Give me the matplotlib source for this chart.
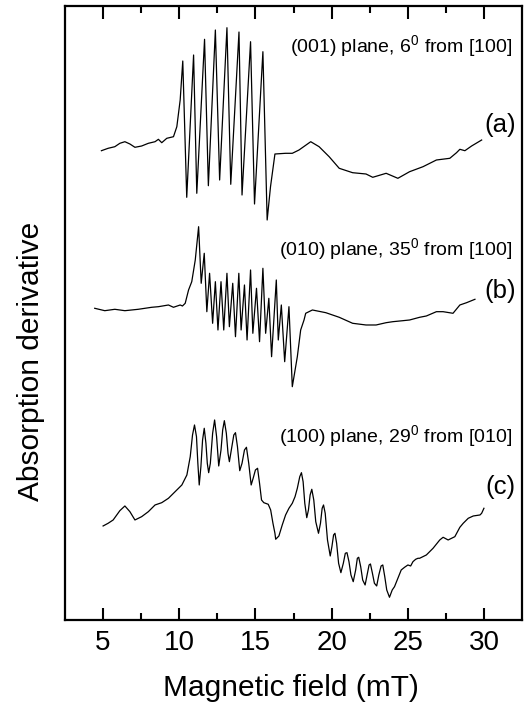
import matplotlib.pyplot as plt
import numpy as np

plt.rcParams['font.family'] = ['Liberation Sans', 'DejaVu Sans']
plt.rcParams['mathtext.fontset'] = 'custom'
plt.rcParams['mathtext.rm'] = 'Liberation Sans'

# spectrum (a): (001) plane, 6 deg from [100]
field_a = [4.89, 5.33, 5.77, 6.10, 6.43, 6.76, 7.09, 7.53, 7.97, 8.41, 8.63, 8.85,
           9.18, 9.62, 9.84, 10.06, 10.23, 10.49, 10.94, 11.15, 11.66, 11.91, 12.37,
           12.65, 13.13, 13.38, 13.92, 14.12, 14.68, 14.94, 15.49, 15.77, 15.99, 16.28,
           16.98, 17.42, 17.86, 18.63, 19.18, 19.84, 20.50, 21.38, 22.26, 22.70, 23.58,
           24.35, 25.12, 26.00, 26.88, 27.76, 28.20, 28.42, 28.75, 29.19, 29.85]
sig_a = [-0.7, 1.7, 3.3, 6.7, 8.3, 6, 2.7, 4, 6.7, 8.3, 10.7, 7.3,
         11.7, 13.3, 23.3, 50, 89, -47.3, 95, -43.3, 110.7, -35.7, 120,
         -30, 122.3, -34.3, 118, -45, 108.3, -54, 98.3, -70, -36.7, -4,
         -3.3, -3.3, 0, 8.3, 3.3, -6.7, -18.3, -22.7, -24, -27.3, -23.3,
         -28.3, -21.7, -16.7, -10, -8.3, -2.7, 0.7, -0.7, 4, 10]

# spectrum (b): (010) plane, 35 deg from [100]
field_b = [4.45, 5.11, 5.77, 6.43, 7.31, 8.19, 8.63, 9.29, 9.62, 10.06, 10.21,
           10.39, 10.61, 10.82, 11.05, 11.27, 11.44, 11.64, 11.81, 11.99, 12.19, 12.37,
           12.54, 12.74, 12.92, 13.13, 13.29, 13.51, 13.69, 13.91, 14.06, 14.28, 14.45,
           14.68, 14.83, 15.07, 15.27, 15.49, 15.67, 15.88, 16.06, 16.37, 16.50, 16.70,
           16.92, 17.20, 17.42, 17.75, 17.97, 18.19, 18.30, 18.74, 19.62, 20.50, 21.38,
           22.26, 22.92, 23.58, 24.02, 24.68, 25.12, 25.78, 26.22, 26.88, 27.32, 27.97,
           28.42, 28.86, 29.41]
sig_b = [1.7, -0.7, 0.7, -0.7, 0.7, 2.7, 3.3, 5, 2.7, 5, 4,
         6.7, 20, 28.3, 50, 83.3, 26.7, 56.7, -1.7, 36.7, -13.3, 28.3,
         -20, 28.3, -20, 36.7, -16.7, 26.7, -26.7, 36.7, -20, 25, -30,
         40, -23.3, 21.7, -31.7, 41.7, -23.3, 11.7, -46.7, 30, -30, 5,
         -51.7, 3.3, -76.7, -46.7, -20, -10, -3.3, 0, -2.7, -7.3, -13.3,
         -15, -15, -12.7, -11.7, -10.7, -10, -7.3, -6, -1.7, -1.7, -3.3,
         5, 7.3, 10.7]

# spectrum (c): (100) plane, 29 deg from [010]
field_c = [5.00, 5.33, 5.66, 6.10, 6.43, 6.76, 7.09, 7.53, 7.97, 8.41, 8.85, 9.29,
           9.73, 10.17, 10.50, 10.72, 10.87, 11.00, 11.13, 11.22, 11.31, 11.42, 11.53,
           11.64, 11.75, 11.84, 11.93, 12.04, 12.19, 12.32, 12.45, 12.59, 12.74, 12.85,
           12.96, 13.09, 13.20, 13.29, 13.42, 13.58, 13.69, 13.82, 13.97, 14.12, 14.28,
           14.41, 14.56, 14.72, 14.85, 15.00, 15.14, 15.27, 15.40, 15.55, 15.84, 16.00,
           16.15, 16.28, 16.33, 16.54, 16.76, 16.98, 17.20, 17.42, 17.60, 17.75, 17.91,
           18.02, 18.13, 18.24, 18.37, 18.48, 18.59, 18.70, 18.83, 18.96, 19.14, 19.27,
           19.38, 19.47, 19.58, 19.73, 19.91, 20.02, 20.13, 20.22, 20.33, 20.46, 20.61,
           20.77, 20.90, 21.01, 21.14, 21.27, 21.42, 21.58, 21.69, 21.78, 21.91, 22.04,
           22.20, 22.33, 22.46, 22.55, 22.68, 22.81, 22.96, 23.10, 23.25, 23.36, 23.49,
           23.62, 23.80, 23.98, 24.13, 24.35, 24.57, 24.79, 25.01, 25.19, 25.34, 25.52,
           25.67, 25.78, 26.22, 26.66, 27.10, 27.32, 27.65, 28.09, 28.42, 28.64, 28.97,
           29.30, 29.74, 29.85, 30.00]
sig_c = [-6, -3.3, 0, 9.3, 14, 8.3, 0, 3.3, 8.3, 15, 17.3, 21.7,
         28.3, 35, 45, 63.3, 85, 95, 83.3, 56.7, 35, 53.3, 80,
         91.7, 76.7, 56.7, 47.3, 56.7, 86.7, 100, 83.3, 54, 70, 90,
         99.3, 86.7, 66.7, 58.3, 70, 85, 87.3, 73.3, 49.3, 56.7, 70,
         72.7, 56.7, 35, 41.7, 50, 51.7, 36.7, 20, 17.3, 15.7, 10,
         -3.3, -13.3, -19.3, -16, -5, 5, 11.7, 16.7, 23.3, 31.7, 43.3,
         47.3, 38.3, 16.7, 2.3, 10, 25, 30.7, 20, -1.7, -13.3, -3.3,
         11.7, 15, 6.7, -20, -36, -26.7, -15, -13.3, -23.3, -43.3, -52.7,
         -43.3, -33.3, -32.7, -41.7, -55, -61.7, -50, -38.3, -37.3, -46.7, -60,
         -65, -55, -45, -44, -53.3, -63.3, -66, -55, -46, -45, -56.7,
         -70, -77.3, -70, -66.7, -58.3, -50, -47.3, -45, -46, -41.7, -39.3,
         -38.3, -38.3, -35, -28.3, -20, -17.3, -20, -16.7, -7.3, -3.3, 1.7,
         4, 5, 6.7, 11.7]

offsets = [470, 310, 100]
notes = ["(001) plane, 6$^0$ from [100]",
         "(010) plane, 35$^0$ from [100]",
         "(100) plane, 29$^0$ from [010]"]
tags = ["(a)", "(b)", "(c)"]
note_y = [573, 370, 183]
tag_y = [495, 329, 133]

fig = plt.figure(figsize=(5.29, 7.07), dpi=100)
ax = fig.add_axes([0.1229, 0.1231, 0.8639, 0.8684])

traces = [(field_a, sig_a), (field_b, sig_b), (field_c, sig_c)]
for i, (f, s) in enumerate(traces):
    ax.plot(f, np.array(s) + offsets[i], color='black', lw=0.9)
    ax.text(31.85, note_y[i], notes[i], ha='right', va='center', fontsize=14)
    ax.text(32.1, tag_y[i], tags[i], ha='right', va='center', fontsize=18.5)

ax.set_xlim(2.5, 32.5)
ax.set_ylim(0, 614)
ax.set_xticks([5, 10, 15, 20, 25, 30])
ax.set_xticks(np.arange(7.5, 30, 5), minor=True)
ax.set_yticks([])
ax.tick_params(axis='x', which='both', direction='in', top=True, labelsize=20,
               pad=7, width=1.5)
ax.tick_params(axis='x', which='major', length=9)
ax.tick_params(axis='x', which='minor', length=5)
for sp in ax.spines.values():
    sp.set_linewidth(1.6)

fig.text(0.55, 0.027, "Magnetic field (mT)", ha='center', va='center', fontsize=21.5)
fig.text(0.0586, 0.4894, "Absorption derivative", ha='center', va='center',
         rotation=90, fontsize=21.5)

fig.savefig('out.png', dpi=100)
